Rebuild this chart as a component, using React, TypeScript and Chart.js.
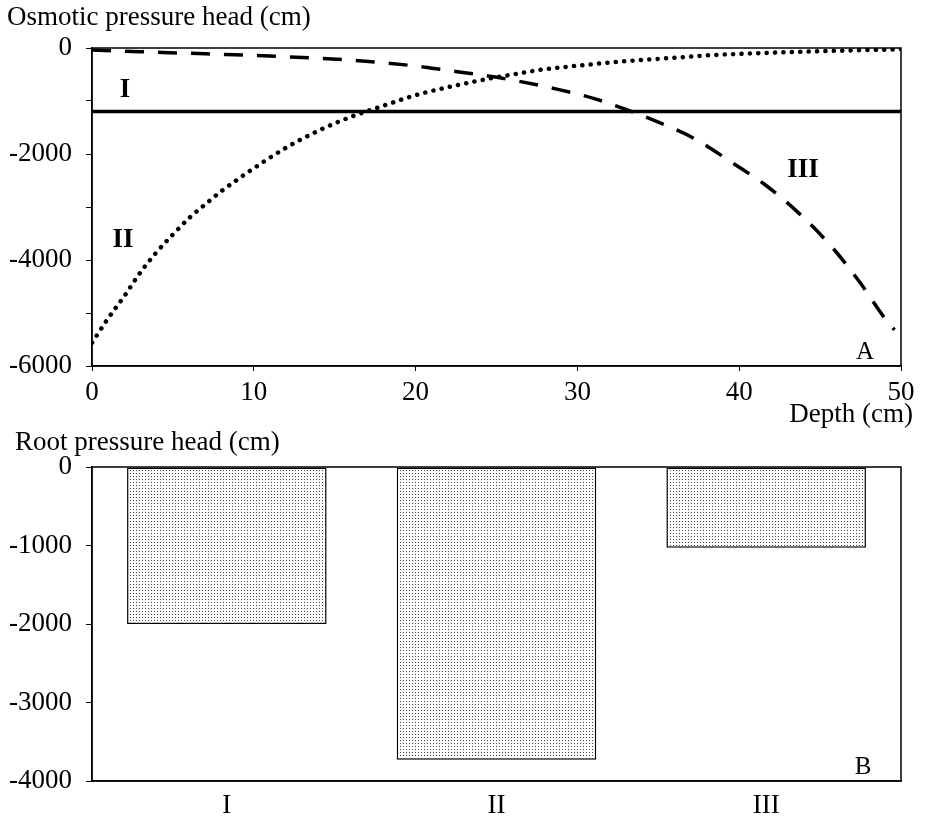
import React, { useEffect, useRef } from 'react';
import { Chart, registerables } from 'chart.js';
Chart.register(...registerables);

// ---- Data (panel A) ----
const lineIDepth = [0, 50];
const lineIValues = [-1200, -1200];

const curveIIDepth = [0, 1, 2, 3, 4, 5, 6, 7, 8, 9, 10, 12, 14, 16, 18, 20, 22, 24, 26, 28, 30, 32, 34, 36, 38, 41, 44, 47, 50];
const curveIIValues = [-5560, -5100, -4680, -4230, -3850, -3520, -3210, -2950, -2700, -2480, -2270, -1880, -1560, -1300, -1090, -890, -740, -610, -500, -400, -335, -275, -225, -185, -140, -100, -70, -45, -25];

const curveIIIDepth = [0, 3, 7, 12, 16, 20, 22, 24.5, 26.5, 28.8, 31, 33, 35, 37.3, 39.5, 41.6, 43.7, 45.8, 47.5, 49, 49.6];
const curveIIIValues = [-40, -70, -110, -165, -230, -340, -425, -528, -635, -780, -950, -1160, -1400, -1720, -2150, -2580, -3120, -3780, -4440, -5100, -5320];

const depthTicks = [0, 10, 20, 30, 40, 50];
const osmoticTicks = [0, -2000, -4000, -6000];

// ---- Data (panel B) ----
const rootCategories = ['I', 'II', 'III'];
const rootValues = [-2000, -3730, -1030];
const rootTicks = [0, -1000, -2000, -3000, -4000];

const SERIF = "'Liberation Serif', 'Times New Roman', serif";
const FS = 27;

const toXY = (xs: number[], ys: number[]) => xs.map((x, i) => ({ x, y: ys[i] }));

type TextItem = { text: string; x: number; y: number; bold?: boolean; align: CanvasTextAlign; size?: number };

const decorPlugin = (items: TextItem[]) => ({
  id: 'decor',
  afterDraw(chart: any) {
    const ctx = chart.ctx as CanvasRenderingContext2D;
    const a = chart.chartArea;
    ctx.save();
    ctx.strokeStyle = '#000';
    ctx.lineWidth = 1.5;
    ctx.strokeRect(a.left, a.top, a.right - a.left, a.bottom - a.top);
    ctx.fillStyle = '#000';
    ctx.textBaseline = 'middle';
    for (const it of items) {
      ctx.font = `${it.bold ? 'bold ' : ''}${it.size || FS}px ${SERIF}`;
      ctx.textAlign = it.align;
      ctx.fillText(it.text, it.x, it.y);
    }
    ctx.restore();
  },
});

function makeDotPattern(): CanvasPattern | string {
  const c = document.createElement('canvas');
  c.width = 3;
  c.height = 3;
  const g = c.getContext('2d');
  if (!g) return '#ddd';
  g.fillStyle = '#ffffff';
  g.fillRect(0, 0, 3, 3);
  g.fillStyle = '#444444';
  g.fillRect(1, 1, 1, 1);
  const p = g.createPattern(c, 'repeat');
  return p || '#ddd';
}

export default function App() {
  const topRef = useRef<HTMLCanvasElement>(null);
  const botRef = useRef<HTMLCanvasElement>(null);

  useEffect(() => {
    const tickFont = { family: SERIF, size: FS };

    const top = new Chart(topRef.current!, {
      type: 'line',
      data: {
        datasets: [
          {
            label: 'I',
            data: toXY(lineIDepth, lineIValues),
            borderColor: '#000',
            borderWidth: 3.5,
            pointRadius: 0,
          },
          {
            label: 'II',
            data: toXY(curveIIDepth, curveIIValues),
            borderColor: '#000',
            borderWidth: 4.5,
            borderDash: [0.1, 8.3],
            borderCapStyle: 'round',
            pointRadius: 0,
            cubicInterpolationMode: 'monotone',
          },
          {
            label: 'III',
            data: toXY(curveIIIDepth, curveIIIValues),
            borderColor: '#000',
            borderWidth: 3.5,
            borderDash: [19, 14],
            pointRadius: 0,
            cubicInterpolationMode: 'monotone',
          },
        ],
      },
      options: {
        animation: false,
        responsive: false,
        devicePixelRatio: 1,
        layout: { padding: { left: 0, top: 48, right: 26, bottom: 0 } },
        plugins: { legend: { display: false }, tooltip: { enabled: false } },
        scales: {
          x: {
            type: 'linear',
            min: 0,
            max: 50,
            afterBuildTicks: (s: any) => { s.ticks = depthTicks.map((v) => ({ value: v })); },
            afterFit: (s: any) => { s.height = 64; },
            ticks: { font: tickFont, color: '#000', padding: 6, maxRotation: 0, autoSkip: false, callback: (v: any) => String(v) },
            grid: { drawOnChartArea: false, color: '#000', tickLength: 5 },
            border: { color: '#000', width: 1.5 },
          },
          y: {
            type: 'linear',
            min: -6000,
            max: 0,
            ticks: {
              stepSize: 1000,
              font: tickFont,
              color: '#000',
              padding: 14,
              autoSkip: false,
              callback: (v: any) => (osmoticTicks.includes(Number(v)) ? String(v) : ''),
            },
            afterFit: (s: any) => { s.width = 92; },
            grid: { drawOnChartArea: false, color: '#000', tickLength: 6 },
            border: { color: '#000', width: 1.5 },
          },
        },
      },
      plugins: [
        decorPlugin([
          { text: 'Osmotic pressure head (cm)', x: 7, y: 18, align: 'left' },
          { text: 'I', x: 125, y: 90, bold: true, align: 'center' },
          { text: 'II', x: 123, y: 240, bold: true, align: 'center' },
          { text: 'III', x: 803, y: 170, bold: true, align: 'center' },
          { text: 'A', x: 865, y: 352, align: 'center', size: 25 },
          { text: 'Depth (cm)', x: 913, y: 415, align: 'right' },
        ]),
      ],
    } as any);

    const bot = new Chart(botRef.current!, {
      type: 'bar',
      data: {
        labels: rootCategories,
        datasets: [
          {
            label: 'Root pressure head',
            data: rootValues,
            backgroundColor: makeDotPattern() as any,
            borderColor: '#000',
            borderWidth: 1.5,
            borderSkipped: false,
            barPercentage: 0.74,
            categoryPercentage: 1,
          },
        ],
      },
      options: {
        animation: false,
        responsive: false,
        devicePixelRatio: 1,
        layout: { padding: { left: 0, top: 37, right: 26, bottom: 0 } },
        plugins: { legend: { display: false }, tooltip: { enabled: false } },
        scales: {
          x: {
            type: 'category',
            afterFit: (s: any) => { s.height = 35; },
            ticks: { font: tickFont, color: '#000', padding: 1, maxRotation: 0 },
            grid: { display: false },
            border: { color: '#000', width: 1.5 },
          },
          y: {
            type: 'linear',
            min: -4000,
            max: 0,
            afterBuildTicks: (s: any) => { s.ticks = rootTicks.slice().reverse().map((v) => ({ value: v })); },
            ticks: { font: tickFont, color: '#000', padding: 14, autoSkip: false, callback: (v: any) => String(v) },
            afterFit: (s: any) => { s.width = 92; },
            grid: { drawOnChartArea: false, color: '#000', tickLength: 6 },
            border: { color: '#000', width: 1.5 },
          },
        },
      },
      plugins: [
        decorPlugin([
          { text: 'Root pressure head (cm)', x: 15, y: 13, align: 'left' },
          { text: 'B', x: 863, y: 337, align: 'center', size: 25 },
        ]),
      ],
    } as any);

    return () => {
      top.destroy();
      bot.destroy();
    };
  }, []);

  return (
    <div style={{ position: 'absolute', left: 0, top: 0, width: 927, height: 816, background: '#fff' }}>
      <canvas ref={topRef} width={927} height={430} style={{ position: 'absolute', left: 0, top: 0, width: 927, height: 430 }} />
      <canvas ref={botRef} width={927} height={386} style={{ position: 'absolute', left: 0, top: 430, width: 927, height: 386 }} />
    </div>
  );
}
